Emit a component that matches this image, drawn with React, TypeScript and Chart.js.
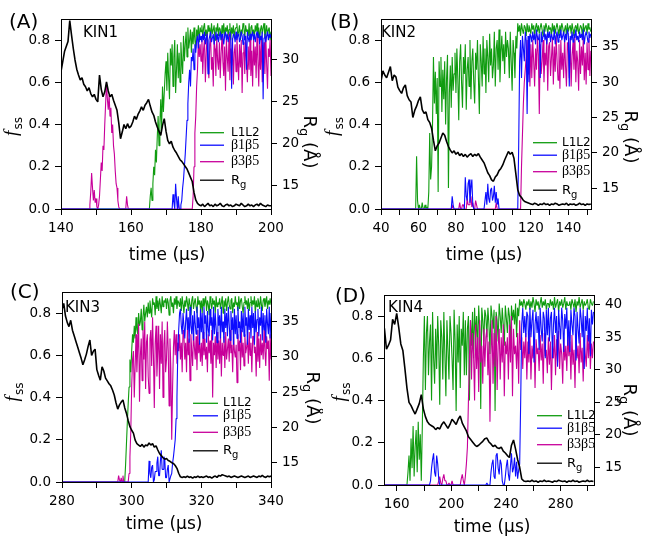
import React, { useEffect, useRef } from 'react';
import { Chart, registerables } from 'chart.js';

Chart.register(...registerables);

const SANS = '"DejaVu Sans", Verdana, sans-serif';
const SERIF = '"Liberation Serif", "DejaVu Serif", serif';
const GREEN = '#109c10';
const BLUE = '#0c0cff';
const MAGENTA = '#c8009a';
const BLACK = '#000000';

// ================= KIN1 =================
// Rg sampled every 0.5 us from 140 us; f_ss (percent) sampled every 0.25 us from 140 us
const kin1RgStart = 140;
const kin1RgStep = 0.5;
const kin1FStart = 140;
const kin1FStep = 0.25;
const kin1Rg = [
  28.6, 29.8, 31.0, 31.6, 32.2, 34.7, 33.0, 31.4, 30.0, 28.9,
  28.2, 27.6, 27.9, 27.1, 26.8, 26.3, 26.7, 26.0, 25.6, 25.9,
  25.3, 25.0, 28.2, 26.5, 25.6, 26.2, 27.4, 26.3, 25.6, 25.9,
  25.2, 24.6, 24.0, 22.5, 20.6, 21.4, 22.3, 21.8, 22.4, 21.9,
  22.1, 22.6, 23.3, 22.9, 23.5, 23.9, 24.4, 24.0, 24.6, 24.9,
  25.3, 24.5, 23.8, 23.4, 22.6, 22.0, 21.5, 21.0, 22.2, 23.0,
  21.5, 20.4, 20.0, 20.3, 19.6, 19.2, 18.9, 18.5, 18.1, 17.9,
  17.6, 17.3, 17.0, 16.5, 16.0, 15.5, 14.2, 13.3, 12.9, 12.7,
  12.6, 12.8, 12.5, 12.7, 12.9, 12.6, 12.7, 12.5, 12.8, 12.6,
  12.7, 12.9, 12.6, 12.5, 12.7, 12.8, 12.6, 12.7, 12.5, 12.6,
  12.8, 12.7, 12.6, 12.9, 12.7, 12.5, 12.6, 12.8, 12.6, 12.7,
  12.5, 12.7, 12.8, 12.6, 12.9, 12.7, 12.6, 12.5, 12.7, 12.6,
  12.6,
];
const kin1L1L2 = [
  0, 0, 0, 0, 0, 0, 0, 0, 0, 0,
  0, 0, 0, 0, 0, 0, 0, 0, 0, 0,
  0, 0, 0, 0, 0, 0, 0, 0, 0, 0,
  0, 0, 0, 0, 0, 0, 0, 0, 0, 0,
  0, 0, 0, 0, 0, 0, 0, 0, 0, 0,
  0, 0, 0, 0, 0, 0, 0, 0, 0, 0,
  0, 0, 0, 0, 0, 0, 0, 0, 0, 0,
  0, 0, 0, 0, 0, 0, 0, 0, 0, 0,
  0, 0, 0, 0, 0, 0, 0, 0, 0, 0,
  0, 0, 0, 0, 0, 0, 0, 0, 0, 0,
  0, 0, 6, 10, 4, 12, 20, 16, 28, 22,
  34, 44, 30, 40, 52, 38, 58, 46, 55, 64,
  70, 56, 74, 62, 52, 76, 68, 78, 58, 72,
  80, 55, 66, 78, 62, 74, 60, 79, 70, 64,
  82, 70, 78, 84, 72, 86, 76, 80, 85, 74,
  84, 78, 86, 80, 76, 85, 82, 87, 79, 86,
  84, 87, 81, 86, 88, 82, 85, 80, 87, 84,
  86, 81, 88, 83, 85, 87, 80, 86, 84, 88,
  82, 86, 85, 80, 87, 83, 88, 81, 86, 84,
  87, 82, 85, 88, 80, 86, 83, 87, 81, 85,
  86, 88, 82, 84, 87, 80, 85, 83, 88, 86,
  81, 87, 84, 85, 82, 88, 80, 86, 87, 83,
  85, 81, 87, 84, 88, 82, 86, 80, 85, 87,
  83, 86, 88, 81, 84, 87, 82, 85, 86, 80,
  84,
];
const kin1B1B5 = [
  0, 0, 0, 0, 0, 0, 0, 0, 0, 0,
  0, 0, 0, 0, 0, 0, 0, 0, 0, 0,
  0, 0, 0, 0, 0, 0, 0, 0, 0, 0,
  0, 0, 0, 0, 0, 0, 0, 0, 0, 0,
  0, 0, 0, 0, 0, 0, 0, 0, 0, 0,
  0, 0, 0, 0, 0, 0, 0, 0, 0, 0,
  0, 0, 0, 0, 0, 0, 0, 0, 0, 0,
  0, 0, 0, 0, 0, 0, 0, 0, 0, 0,
  0, 0, 0, 0, 0, 0, 0, 0, 0, 0,
  0, 0, 0, 0, 0, 0, 0, 0, 0, 0,
  0, 0, 0, 0, 0, 0, 0, 0, 0, 0,
  0, 0, 0, 0, 0, 0, 0, 0, 0, 0,
  0, 0, 0, 0, 0, 0, 0, 0, 7, 3,
  0, 12, 5, 0, 6, 0, 0, 2, 4, 10,
  14, 20, 26, 34, 42, 50, 60, 66, 58, 72,
  70, 76, 66, 78, 74, 80, 82, 76, 83, 80,
  82, 79, 83, 80, 84, 78, 81, 83, 64, 80,
  82, 84, 79, 81, 83, 78, 82, 84, 80, 83,
  79, 82, 84, 80, 83, 81, 78, 82, 84, 80,
  83, 79, 82, 84, 81, 57, 80, 83, 82, 79,
  84, 80, 82, 83, 79, 81, 84, 82, 78, 83,
  80, 82, 66, 84, 81, 79, 83, 80, 82, 84,
  80, 83, 79, 82, 84, 81, 83, 78, 82, 80,
  84, 52, 81, 83, 79, 82, 84, 80, 83, 81,
  83,
];
const kin1B3B5 = [
  0, 0, 0, 0, 0, 0, 0, 0, 0, 0,
  0, 0, 0, 0, 0, 0, 0, 0, 0, 0,
  0, 0, 0, 0, 0, 0, 0, 0, 0, 0,
  0, 0, 0, 2, 8, 17, 10, 4, 9, 3,
  5, 1, 0, 2, 6, 14, 22, 18, 30, 28,
  40, 50, 60, 52, 47, 54, 44, 48, 36, 40,
  30, 26, 18, 12, 10, 4, 1, 0, 0, 0,
  0, 0, 0, 0, 0, 6, 2, 0, 0, 0,
  0, 0, 0, 0, 0, 0, 0, 0, 0, 0,
  0, 0, 0, 0, 0, 0, 0, 0, 0, 0,
  0, 0, 0, 0, 0, 0, 0, 0, 0, 0,
  0, 0, 0, 0, 0, 0, 0, 0, 0, 0,
  0, 0, 0, 0, 0, 0, 0, 0, 0, 0,
  0, 0, 0, 0, 3, 0, 0, 0, 0, 0,
  0, 0, 0, 0, 0, 0, 0, 0, 0, 0,
  0, 6, 20, 36, 44, 58, 66, 80, 72, 78,
  70, 82, 64, 76, 80, 60, 74, 83, 68, 62,
  78, 81, 66, 72, 58, 80, 76, 63, 82, 70,
  66, 79, 62, 74, 82, 70, 63, 77, 56, 80,
  72, 65, 83, 61, 76, 68, 81, 59, 74, 78,
  65, 83, 71, 61, 78, 67, 80, 55, 74, 79,
  64, 82, 70, 60, 77, 66, 81, 63, 75, 58,
  80, 68, 77, 62, 83, 71, 58, 78, 66, 81,
  60, 74, 79, 64, 82, 69, 57, 76, 72, 80,
  63,
];

// ================= KIN2 =================
// Rg every 1 us from 40 us; f_ss (percent) every 0.5 us from 40 us
const kin2RgStart = 40;
const kin2RgStep = 1;
const kin2FStart = 40;
const kin2FStep = 0.5;
const kin2Rg = [
  30.1, 31.6, 31.0, 30.6, 31.4, 32.2, 30.2, 31.0, 30.7, 29.3,
  28.8, 28.4, 29.2, 29.6, 28.1, 27.5, 27.2, 25.0, 26.0, 26.6,
  27.4, 27.9, 26.1, 25.6, 25.8, 24.7, 24.3, 23.5, 21.8, 20.3,
  21.0, 21.4, 22.1, 22.8, 22.5, 21.6, 20.9, 20.4, 20.0, 20.3,
  19.8, 20.1, 19.6, 19.9, 19.5, 19.8, 19.4, 19.7, 19.9, 19.5,
  19.8, 19.6, 19.9, 19.4, 19.0, 18.6, 17.9, 17.2, 16.8, 16.2,
  16.0, 16.6, 16.9, 17.5, 17.8, 18.3, 19.0, 19.6, 20.2, 19.8,
  20.1, 19.2, 17.0, 14.8, 14.0, 13.7, 13.3, 13.1, 13.0, 12.9,
  12.8, 12.7, 12.9, 12.8, 12.6, 12.8, 12.7, 12.9, 12.7, 12.8,
  12.6, 12.8, 12.7, 12.9, 12.8, 12.6, 12.7, 12.8, 12.7, 12.9,
  12.6, 12.8, 12.7, 12.8, 12.6, 12.7, 12.9, 12.7, 12.8, 12.6,
  12.8, 12.7, 12.8,
];
const kin2L1L2 = [
  0, 0, 0, 0, 0, 0, 0, 0, 0, 0,
  0, 0, 0, 0, 0, 0, 0, 0, 0, 0,
  0, 0, 0, 0, 0, 0, 0, 0, 0, 0,
  0, 0, 0, 0, 0, 0, 0, 0, 25, 4,
  0, 2, 0, 0, 3, 0, 0, 2, 0, 1,
  0, 8, 36, 14, 20, 40, 72, 50, 65, 45,
  62, 8, 70, 58, 72, 46, 66, 52, 70, 40,
  62, 73, 10, 55, 68, 48, 72, 56, 64, 74,
  55, 76, 62, 42, 70, 78, 60, 48, 72, 64,
  78, 47, 66, 72, 58, 80, 52, 70, 76, 60,
  50, 74, 66, 80, 62, 45, 78, 70, 58, 82,
  64, 76, 55, 80, 72, 60, 83, 68, 76, 62,
  68, 84, 58, 76, 80, 66, 85, 60, 74, 82,
  70, 78, 64, 84, 72, 80, 76, 62, 84, 70,
  56, 80, 74, 62, 82, 76, 88, 84, 87, 82,
  88, 85, 83, 87, 86, 82, 88, 84, 87, 85,
  83, 88, 85, 87, 82, 86, 88, 84, 87, 83,
  86, 88, 85, 82, 87, 84, 88, 86, 83, 87,
  85, 86, 82, 88, 84, 87, 83, 86, 88, 85,
  82, 87, 84, 88, 86, 83, 85, 87, 82, 88,
  84, 86, 87, 83, 88, 85, 82, 86, 87, 84,
  88, 83, 85, 87, 86, 82, 88, 84, 86, 87,
  83, 88, 85, 86, 84,
];
const kin2B1B5 = [
  0, 0, 0, 0, 0, 0, 0, 0, 0, 0,
  0, 0, 0, 0, 0, 0, 0, 0, 0, 0,
  0, 0, 0, 0, 0, 0, 0, 0, 0, 0,
  0, 0, 0, 0, 0, 0, 0, 0, 0, 0,
  0, 0, 0, 0, 0, 0, 0, 0, 0, 0,
  0, 0, 0, 0, 0, 0, 0, 0, 0, 0,
  0, 0, 0, 0, 0, 0, 0, 0, 0, 0,
  0, 0, 0, 0, 0, 0, 6, 2, 0, 0,
  0, 0, 0, 0, 0, 0, 0, 0, 0, 0,
  15, 6, 4, 12, 14, 3, 10, 14, 2, 0,
  0, 0, 0, 0, 0, 0, 0, 0, 0, 0,
  0, 0, 8, 2, 12, 5, 3, 9, 10, 4,
  6, 11, 3, 8, 2, 5, 0, 0, 0, 0,
  0, 0, 0, 0, 0, 0, 0, 0, 0, 0,
  0, 0, 0, 0, 0, 0, 0, 30, 70, 80,
  62, 82, 76, 70, 84, 80, 45, 82, 60, 83,
  82, 79, 84, 80, 83, 78, 85, 81, 80, 83,
  62, 84, 79, 82, 85, 80, 83, 78, 84, 81,
  84, 79, 83, 81, 80, 85, 78, 82, 84, 79,
  83, 81, 85, 80, 82, 84, 79, 83, 80, 85,
  83, 58, 82, 80, 84, 79, 83, 81, 85, 80,
  82, 79, 84, 81, 83, 80, 85, 78, 82, 84,
  82, 79, 84, 81, 83,
];
const kin2B3B5 = [
  0, 0, 0, 0, 0, 0, 0, 0, 0, 0,
  0, 0, 0, 0, 0, 0, 0, 0, 0, 0,
  0, 0, 0, 0, 0, 0, 0, 0, 0, 0,
  0, 0, 0, 0, 0, 0, 0, 0, 0, 0,
  0, 0, 0, 0, 0, 0, 0, 0, 0, 0,
  0, 0, 0, 0, 0, 0, 0, 0, 0, 0,
  0, 0, 0, 0, 0, 0, 0, 0, 0, 0,
  0, 0, 0, 0, 0, 0, 2, 0, 0, 0,
  0, 0, 0, 0, 3, 0, 0, 2, 2, 0,
  0, 0, 5, 2, 2, 4, 6, 1, 3, 0,
  0, 4, 2, 0, 0, 0, 0, 0, 0, 0,
  0, 0, 0, 0, 0, 0, 0, 0, 0, 0,
  0, 0, 0, 3, 0, 0, 0, 0, 0, 0,
  0, 0, 0, 0, 0, 0, 0, 0, 0, 0,
  0, 0, 0, 0, 0, 0, 0, 0, 0, 0,
  20, 35, 50, 60, 66, 72, 80, 64, 78, 58,
  78, 62, 80, 70, 58, 76, 66, 82, 73, 45,
  78, 64, 70, 80, 60, 74, 68, 82, 56, 77,
  79, 63, 72, 81, 59, 77, 65, 82, 70, 61,
  78, 57, 80, 66, 74, 62, 81, 68, 58, 79,
  76, 62, 81, 58, 73, 79, 66, 82, 60, 75,
  70, 56, 80, 64, 77, 68, 82, 61, 74, 59,
  79, 66, 81, 63, 75,
];

// ================= KIN3 =================
// Rg every 0.5 us from 280 us; f_ss (percent) every 0.25 us from 280 us
const kin3RgStart = 280;
const kin3RgStep = 0.5;
const kin3FStart = 280;
const kin3FStep = 0.25;
const kin3Rg = [
  36.7, 37.6, 35.8, 34.9, 34.3, 35.2, 33.8, 33.0, 32.2, 31.4,
  30.6, 29.8, 28.9, 29.6, 30.4, 31.5, 32.4, 30.2, 30.8, 31.1,
  28.2, 27.4, 26.7, 28.6, 28.0, 27.0, 26.6, 26.2, 25.9, 25.3,
  24.6, 23.5, 22.6, 23.2, 23.6, 23.9, 22.8, 22.0, 21.0, 20.1,
  19.6, 19.2, 18.2, 17.7, 17.5, 17.3, 17.6, 17.2, 17.5, 17.4,
  17.8, 17.5, 17.7, 17.2, 17.4, 16.8, 16.3, 16.0, 15.7, 15.5,
  15.6, 15.3, 15.2, 15.0, 14.9, 14.6, 14.2, 13.5, 13.0, 12.9,
  13.0, 12.9, 13.1, 12.9, 13.0, 12.8, 13.0, 12.9, 13.1, 12.9,
  13.0, 12.9, 13.0, 13.1, 12.9, 13.0, 12.8, 13.0, 13.1, 12.9,
  13.2, 13.1, 13.3, 13.2, 13.1, 13.0, 13.1, 12.9, 13.0, 13.1,
  13.0, 12.9, 13.0, 13.1, 13.0, 12.9, 13.0, 13.1, 12.9, 13.0,
  13.1, 13.0, 12.9, 13.1, 13.0, 13.2, 13.0, 12.9, 13.1, 13.0,
  13.1,
];
const kin3L1L2 = [
  0, 0, 0, 0, 0, 0, 0, 0, 0, 0,
  0, 0, 0, 0, 0, 0, 0, 0, 0, 0,
  0, 0, 0, 0, 0, 0, 0, 0, 0, 0,
  0, 0, 0, 0, 0, 0, 0, 0, 0, 0,
  0, 0, 0, 0, 0, 0, 0, 0, 0, 0,
  0, 0, 0, 0, 0, 0, 0, 0, 0, 0,
  0, 0, 0, 0, 0, 0, 0, 0, 0, 0,
  0, 0, 0, 8, 18, 28, 37, 45, 58, 52,
  62, 70, 66, 74, 68, 78, 72, 70, 80, 74,
  76, 82, 72, 78, 84, 76, 80, 83, 78, 85,
  80, 86, 82, 78, 87, 84, 85, 79, 88, 82,
  86, 81, 87, 84, 80, 88, 83, 86, 85, 87,
  82, 87, 85, 79, 86, 88, 83, 85, 80, 87,
  84, 88, 82, 86, 85, 83, 87, 81, 88, 84,
  80, 86, 83, 88, 85, 81, 87, 84, 79, 86,
  88, 82, 85, 87, 83, 80, 88, 84, 86, 82,
  86, 80, 87, 83, 85, 88, 81, 86, 84, 79,
  88, 85, 82, 87, 84, 86, 80, 88, 83, 85,
  84, 87, 82, 85, 88, 80, 86, 83, 87, 81,
  85, 88, 84, 82, 86, 87, 80, 85, 83, 88,
  84, 85, 81, 88, 82, 86, 87, 83, 80, 85,
  88, 84, 86, 82, 87, 81, 85, 88, 83, 86,
  84, 88, 80, 86, 83, 87, 85, 82, 88, 84,
  81, 86, 87, 83, 85, 88, 82, 86, 84, 87,
  84,
];
const kin3B1B5 = [
  0, 0, 0, 0, 0, 0, 0, 0, 0, 0,
  0, 0, 0, 0, 0, 0, 0, 0, 0, 0,
  0, 0, 0, 0, 0, 0, 0, 0, 0, 0,
  0, 0, 0, 0, 0, 0, 0, 0, 0, 0,
  0, 0, 0, 0, 0, 0, 0, 0, 0, 0,
  0, 0, 0, 0, 0, 0, 0, 0, 0, 0,
  0, 0, 0, 0, 0, 0, 0, 0, 0, 0,
  0, 0, 0, 0, 0, 0, 0, 0, 0, 0,
  0, 0, 0, 0, 0, 0, 0, 0, 0, 0,
  0, 0, 0, 0, 0, 0, 0, 0, 0, 0,
  10, 4, 2, 7, 8, 0, 1, 5, 5, 9,
  12, 3, 3, 10, 15, 6, 6, 12, 11, 2,
  2, 6, 8, 0, 0, 3, 4, 9, 12, 16,
  20, 30, 40, 62, 72, 80, 82, 74, 70, 80,
  80, 68, 76, 82, 72, 78, 66, 83, 74, 70,
  79, 67, 81, 75, 70, 83, 73, 78, 65, 82,
  71, 80, 68, 83, 75, 79, 66, 81, 72, 69,
  82, 74, 78, 67, 83, 70, 80, 73, 66, 82,
  74, 79, 68, 83, 71, 76, 66, 82, 73, 80,
  69, 83, 75, 67, 81, 72, 78, 65, 82, 70,
  79, 68, 83, 73, 76, 66, 81, 71, 80, 69,
  83, 74, 78, 65, 82, 72, 79, 68, 83, 73,
  80, 65, 81, 71, 77, 82, 69, 78, 74, 83,
  67, 80, 72, 79, 66, 82, 75, 70, 83, 68,
  80,
];
const kin3B3B5 = [
  0, 0, 0, 0, 0, 0, 0, 0, 0, 0,
  0, 0, 0, 0, 0, 0, 0, 0, 0, 0,
  0, 0, 0, 0, 0, 0, 0, 0, 0, 0,
  0, 0, 0, 0, 0, 0, 0, 0, 0, 0,
  0, 0, 0, 0, 0, 0, 0, 0, 0, 0,
  0, 0, 0, 0, 0, 0, 0, 0, 0, 0,
  0, 0, 0, 0, 0, 3, 1, 0, 2, 0,
  3, 0, 0, 0, 0, 0, 0, 4, 12, 24,
  45, 58, 62, 40, 55, 70, 52, 64, 75, 38,
  60, 68, 48, 72, 58, 76, 44, 66, 70, 50,
  42, 68, 72, 55, 78, 60, 35, 66, 74, 50,
  62, 74, 44, 70, 56, 76, 40, 65, 72, 52,
  58, 76, 62, 36, 68, 54, 20, 45, 64, 72,
  60, 70, 56, 66, 62, 70, 58, 66, 52, 72,
  70, 58, 66, 52, 72, 60, 68, 48, 70, 62,
  55, 71, 64, 58, 69, 53, 72, 61, 66, 57,
  66, 55, 71, 60, 68, 58, 64, 52, 70, 61,
  67, 56, 72, 40, 66, 60, 69, 54, 71, 58,
  67, 56, 72, 50, 66, 60, 69, 54, 71, 58,
  63, 68, 57, 72, 61, 65, 52, 70, 62, 59,
  65, 47, 70, 62, 67, 53, 72, 59, 66, 55,
  70, 61, 64, 68, 56, 71, 60, 66, 52, 69,
  69, 61, 64, 50, 71, 57, 68, 54, 70, 60,
  66, 58, 72, 62, 55, 69, 63, 67, 48, 70,
  58,
];

// ================= KIN4 =================
// Rg every 1.5 us from 151 us; f_ss (percent) every 0.75 us from 151 us
const kin4RgStart = 151;
const kin4RgStep = 1.5;
const kin4FStart = 151;
const kin4FStep = 0.75;
const kin4Rg = [
  36.4, 33.2, 33.8, 34.6, 37.8, 37.0, 38.7, 36.5, 34.0, 33.0,
  30.2, 27.2, 25.0, 24.5, 23.8, 23.2, 24.0, 24.8, 26.2, 24.0,
  22.8, 22.0, 21.6, 21.4, 21.2, 20.8, 21.1, 20.9, 21.6, 22.0,
  21.5, 21.0, 21.6, 22.4, 22.0, 21.6, 22.4, 22.9, 21.8, 21.2,
  20.6, 19.7, 19.3, 18.9, 18.5, 18.2, 18.4, 18.7, 19.0, 19.4,
  19.5, 18.9, 18.6, 18.2, 18.4, 18.0, 17.9, 18.1, 17.5, 17.2,
  16.8, 16.5, 18.4, 19.2, 17.8, 16.2, 15.0, 13.2, 12.9, 12.8,
  12.9, 12.8, 13.0, 12.8, 12.9, 12.7, 12.9, 12.8, 13.0, 12.8,
  12.9, 12.8, 12.7, 12.9, 12.8, 13.0, 12.9, 12.8, 12.9, 12.7,
  12.9, 12.8, 13.0, 12.8, 12.9, 12.7, 12.8, 12.9, 12.8, 13.0,
  12.8, 12.9, 12.8,
];
const kin4L1L2 = [
  0, 0, 0, 0, 0, 0, 0, 0, 0, 0,
  0, 0, 0, 0, 0, 0, 0, 0, 0, 0,
  0, 0, 0, 6, 14, 2, 22, 8, 28, 4,
  18, 26, 6, 30, 12, 24, 2, 28, 60, 80,
  45, 72, 80, 52, 68, 76, 40, 82, 60, 48,
  74, 55, 80, 66, 38, 78, 70, 50, 82, 62,
  42, 78, 64, 50, 80, 72, 60, 45, 83, 68,
  35, 76, 58, 80, 46, 74, 66, 82, 52, 78,
  52, 74, 80, 40, 78, 66, 82, 60, 84, 70,
  80, 62, 85, 74, 36, 84, 78, 68, 83, 80,
  70, 84, 76, 62, 85, 80, 74, 83, 35, 82,
  78, 68, 86, 80, 72, 84, 76, 66, 85, 79,
  72, 84, 80, 66, 85, 78, 83, 76, 86, 70,
  84, 80, 88, 85, 87, 84, 88, 86, 83, 87,
  85, 88, 83, 87, 84, 89, 86, 82, 88, 85,
  87, 83, 86, 89, 84, 87, 85, 88, 83, 86,
  86, 84, 88, 85, 87, 83, 89, 84, 86, 88,
  82, 87, 85, 88, 84, 86, 89, 83, 87, 85,
  85, 87, 83, 88, 86, 84, 88, 82, 87, 85,
  89, 84, 86, 88, 83, 87, 85, 86, 88, 84,
  83, 88, 86, 85, 87,
];
const kin4B1B5 = [
  0, 0, 0, 0, 0, 0, 0, 0, 0, 0,
  0, 0, 0, 0, 0, 0, 0, 0, 0, 0,
  0, 0, 0, 0, 0, 0, 0, 0, 0, 0,
  0, 0, 0, 0, 0, 0, 0, 0, 0, 0,
  0, 0, 0, 0, 0, 2, 8, 12, 15, 6,
  4, 14, 10, 3, 0, 0, 0, 0, 0, 0,
  0, 0, 0, 0, 0, 0, 0, 0, 0, 0,
  0, 0, 0, 0, 0, 0, 0, 0, 0, 0,
  0, 0, 0, 0, 0, 0, 0, 0, 0, 0,
  0, 0, 0, 0, 0, 0, 0, 0, 0, 0,
  1, 0, 0, 0, 6, 10, 12, 4, 3, 14,
  15, 8, 5, 12, 10, 2, 0, 0, 4, 9,
  12, 5, 2, 9, 15, 6, 8, 13, 4, 11,
  3, 7, 10, 40, 76, 84, 72, 80, 70, 82,
  80, 62, 84, 70, 78, 83, 58, 76, 82, 72,
  80, 64, 84, 74, 68, 82, 79, 60, 83, 71,
  84, 68, 79, 82, 60, 76, 84, 72, 80, 56,
  83, 75, 69, 84, 78, 63, 81, 74, 84, 66,
  78, 63, 83, 76, 71, 84, 80, 59, 82, 74,
  67, 84, 79, 70, 83, 55, 80, 73, 84, 68,
  79, 61, 83, 76, 82,
];
const kin4B3B5 = [
  0, 0, 0, 0, 0, 0, 0, 0, 0, 0,
  0, 0, 0, 0, 0, 0, 0, 0, 0, 0,
  0, 0, 0, 0, 0, 0, 0, 0, 0, 0,
  0, 0, 0, 0, 0, 0, 0, 0, 0, 0,
  0, 0, 0, 0, 0, 0, 0, 0, 0, 0,
  0, 0, 0, 2, 4, 1, 0, 3, 5, 2,
  2, 0, 0, 1, 0, 0, 2, 0, 0, 0,
  0, 0, 0, 0, 0, 3, 5, 2, 0, 4,
  10, 18, 40, 60, 78, 50, 72, 62, 40, 76,
  55, 70, 44, 78, 58, 66, 48, 74, 56, 70,
  74, 52, 68, 30, 62, 78, 48, 72, 56, 80,
  45, 66, 74, 50, 70, 58, 76, 42, 68, 62,
  70, 50, 76, 58, 80, 42, 74, 62, 66, 55,
  72, 48, 78, 64, 70, 55, 68, 60, 72, 50,
  68, 58, 72, 50, 66, 60, 70, 46, 69, 62,
  65, 54, 71, 59, 67, 48, 72, 61, 64, 53,
  70, 57, 68, 45, 66, 60, 71, 52, 69, 58,
  73, 55, 67, 62, 48, 70, 59, 66, 54, 72,
  61, 68, 50, 71, 57, 64, 46, 70, 60, 66,
  53, 72, 58, 65, 49, 69, 62, 56, 71, 60,
  73, 55, 67, 60, 68,
];

// ---------------- axis ticks ----------------
const fssTicks = [0, 0.2, 0.4, 0.6, 0.8];
const kin1XMajor = [140, 160, 180, 200];
const kin1XMinor = [150, 170, 190];
const kin2XMajor = [40, 60, 80, 100, 120, 140];
const kin2XMinor = [50, 70, 90, 110, 130, 150];
const kin3XMajor = [280, 300, 320, 340];
const kin3XMinor = [290, 310, 330];
const kin4XMajor = [160, 200, 240, 280];
const kin4XMinor = [180, 220, 260, 300];
const kin1RgTicks = [15, 20, 25, 30];
const kin2RgTicks = [15, 20, 25, 30, 35];
const kin3RgTicks = [15, 20, 25, 30, 35];
const kin4RgTicks = [15, 20, 25, 30, 35, 40];

type Pt = [number, number];
interface PanelCfg {
  letter: string; kin: string;
  left: number; top: number; w: number; h: number;
  area: { l: number; r: number; t: number; b: number };
  rgStart: number; rgStep: number; fStart: number; fStep: number;
  xMin: number; xMax: number; xMajor: number[]; xMinor: number[];
  rgMin: number; rgMax: number; rgTicks: number[];
  l1l2: number[]; b1b5: number[]; b3b5: number[]; rg: number[];
  letterPos: Pt; kinPos: Pt; xTitle: Pt; fss: Pt; rgTitle: Pt;
  legend: { x1: number; x2: number; tx: number; y: number };
}

const panels: PanelCfg[] = [
  {
    letter: 'A', kin: 'KIN1', left: 0, top: 0, w: 323, h: 270,
    area: { l: 61, r: 271, t: 19, b: 209 },
    rgStart: kin1RgStart, rgStep: kin1RgStep, fStart: kin1FStart, fStep: kin1FStep,
    xMin: 140, xMax: 200, xMajor: kin1XMajor, xMinor: kin1XMinor,
    rgMin: 12.22, rgMax: 34.89, rgTicks: kin1RgTicks,
    l1l2: kin1L1L2, b1b5: kin1B1B5, b3b5: kin1B3B5, rg: kin1Rg,
    letterPos: [9, 22.5], kinPos: [83, 36.7], xTitle: [167, 255.5], fss: [17, 126.5], rgTitle: [309, 142],
    legend: { x1: 200, x2: 224, tx: 231, y: 132.7 },
  },
  {
    letter: 'B', kin: 'KIN2', left: 323, top: 0, w: 324, h: 270,
    area: { l: 58, r: 268, t: 19, b: 209 },
    rgStart: kin2RgStart, rgStep: kin2RgStep, fStart: kin2FStart, fStep: kin2FStep,
    xMin: 40, xMax: 152.1, xMajor: kin2XMajor, xMinor: kin2XMinor,
    rgMin: 12.08, rgMax: 38.91, rgTicks: kin2RgTicks,
    l1l2: kin2L1L2, b1b5: kin2B1B5, b3b5: kin2B3B5, rg: kin2Rg,
    letterPos: [330, 22.5], kinPos: [381, 36.7], xTitle: [484, 255.5], fss: [338, 126.5], rgTitle: [630, 137],
    legend: { x1: 533, x2: 557, tx: 562, y: 142.7 },
  },
  {
    letter: 'C', kin: 'KIN3', left: 0, top: 270, w: 323, h: 270,
    area: { l: 62, r: 271, t: 22, b: 212 },
    rgStart: kin3RgStart, rgStep: kin3RgStep, fStart: kin3FStart, fStep: kin3FStep,
    xMin: 280, xMax: 340, xMajor: kin3XMajor, xMinor: kin3XMinor,
    rgMin: 12.26, rgMax: 39.21, rgTicks: kin3RgTicks,
    l1l2: kin3L1L2, b1b5: kin3B1B5, b3b5: kin3B3B5, rg: kin3Rg,
    letterPos: [10, 292.5], kinPos: [65, 311.7], xTitle: [164, 525], fss: [18, 392], rgTitle: [312, 398],
    legend: { x1: 193, x2: 218, tx: 223, y: 403.3 },
  },
  {
    letter: 'D', kin: 'KIN4', left: 323, top: 270, w: 324, h: 270,
    area: { l: 61, r: 271, t: 25, b: 215 },
    rgStart: kin4RgStart, rgStep: kin4RgStep, fStart: kin4FStart, fStep: kin4FStep,
    xMin: 150.7, xMax: 304.4, xMajor: kin4XMajor, xMinor: kin4XMinor,
    rgMin: 12.27, rgMax: 41.54, rgTicks: kin4RgTicks,
    l1l2: kin4L1L2, b1b5: kin4B1B5, b3b5: kin4B3B5, rg: kin4Rg,
    letterPos: [335, 296.5], kinPos: [388, 311.7], xTitle: [492, 527.5], fss: [345, 392], rgTitle: [629, 410],
    legend: { x1: 537, x2: 562, tx: 567, y: 415.7 },
  },
];

const legendRows = [0, 12.5, 29, 47.5];

function makePlugin(p: PanelCfg) {
  return {
    id: 'panelDecor' + p.letter,
    afterDatasetsDraw(chart: any) {
      const ctx = chart.ctx as CanvasRenderingContext2D;
      const a = chart.chartArea;
      ctx.save();
      ctx.strokeStyle = '#000';
      ctx.lineWidth = 1;
      ctx.strokeRect(Math.round(a.left) + 0.5, Math.round(a.top) + 0.5,
        Math.round(a.right) - Math.round(a.left), Math.round(a.bottom) - Math.round(a.top));
      ctx.restore();
    },
    afterDraw(chart: any) {
      const ctx = chart.ctx as CanvasRenderingContext2D;
      const ox = p.left, oy = p.top;
      ctx.save();
      ctx.fillStyle = '#000';
      ctx.textAlign = 'left';
      ctx.textBaseline = 'middle';
      ctx.font = `20px ${SANS}`;
      ctx.fillText(`(${p.letter})`, p.letterPos[0] - ox, p.letterPos[1] - oy);
      ctx.textBaseline = 'alphabetic';
      ctx.font = `15px ${SANS}`;
      ctx.fillText(p.kin, p.kinPos[0] - ox, p.kinPos[1] - oy);
      ctx.textAlign = 'center';
      ctx.textBaseline = 'middle';
      ctx.font = `17px ${SANS}`;
      ctx.fillText('time (\u03bcs)', p.xTitle[0] - ox, p.xTitle[1] - oy);
      // f_ss (rotated counter-clockwise)
      ctx.save();
      ctx.translate(p.fss[0] - ox, p.fss[1] - oy);
      ctx.rotate(-Math.PI / 2);
      ctx.textAlign = 'left';
      ctx.textBaseline = 'alphabetic';
      const fFont = `italic 19px ${SERIF}`;
      const sFont = `12px ${SANS}`;
      ctx.font = fFont;
      const fw = ctx.measureText('f').width;
      ctx.font = sFont;
      const sw = ctx.measureText('ss').width;
      const tot = fw + sw + 1;
      ctx.font = fFont;
      ctx.fillText('f', -tot / 2, 0);
      ctx.font = sFont;
      ctx.fillText('ss', -tot / 2 + fw + 1, 5);
      ctx.restore();
      // R_g (Å) rotated clockwise
      ctx.save();
      ctx.translate(p.rgTitle[0] - ox, p.rgTitle[1] - oy);
      ctx.rotate(Math.PI / 2);
      ctx.textAlign = 'left';
      ctx.textBaseline = 'middle';
      const bigF = `18px ${SANS}`;
      const subF = `13px ${SANS}`;
      ctx.font = bigF;
      const rw = ctx.measureText('R').width;
      const restW = ctx.measureText(' (\u00c5)').width;
      ctx.font = subF;
      const gw = ctx.measureText('g').width;
      const tw = rw + gw + restW;
      let cx = -tw / 2;
      ctx.font = bigF;
      ctx.fillText('R', cx, 0);
      cx += rw;
      ctx.font = subF;
      ctx.fillText('g', cx, 6);
      cx += gw;
      ctx.font = bigF;
      ctx.fillText(' (\u00c5)', cx, 0);
      ctx.restore();
      // legend
      const items = [
        { c: GREEN, t: 'L1L2', f: `12px ${SANS}` },
        { c: BLUE, t: '\u03b21\u03b25', f: `14px ${SERIF}` },
        { c: MAGENTA, t: '\u03b23\u03b25', f: `14px ${SERIF}` },
        { c: BLACK, t: 'R', f: `13px ${SANS}` },
      ];
      items.forEach((it, i) => {
        const y = p.legend.y + legendRows[i] - oy;
        ctx.strokeStyle = it.c;
        ctx.lineWidth = 1.3;
        ctx.beginPath();
        ctx.moveTo(p.legend.x1 - ox, y);
        ctx.lineTo(p.legend.x2 - ox, y);
        ctx.stroke();
        ctx.fillStyle = '#000';
        ctx.textAlign = 'left';
        ctx.textBaseline = 'middle';
        ctx.font = it.f;
        ctx.fillText(it.t, p.legend.tx - ox, y);
        if (i === 3) {
          const w = ctx.measureText('R').width;
          ctx.font = `10px ${SANS}`;
          ctx.fillText('g', p.legend.tx - ox + w, y + 5);
        }
      });
      ctx.restore();
    },
  };
}

function PanelChart({ p }: { p: PanelCfg }) {
  const ref = useRef<HTMLCanvasElement | null>(null);
  useEffect(() => {
    const canvas = ref.current;
    if (!canvas) return;
    const fPts = (vals: number[]) => vals.map((v, i) => ({ x: p.fStart + i * p.fStep, y: v / 100 }));
    const rPts = (vals: number[]) => vals.map((v, i) => ({ x: p.rgStart + i * p.rgStep, y: v }));
    const tickFont = { family: SANS, size: 13.5 };
    const allX = [...p.xMajor, ...p.xMinor].sort((a, b) => a - b).filter((v) => v >= p.xMin && v <= p.xMax);
    const lw = 1.1;
    const chart = new Chart(canvas, {
      type: 'line',
      data: {
        datasets: [
          { label: 'Rg', data: rPts(p.rg), yAxisID: 'y2', borderColor: BLACK, borderWidth: 1.6, order: 1 },
          { label: 'b1b5', data: fPts(p.b1b5), yAxisID: 'y', borderColor: BLUE, borderWidth: lw, order: 2 },
          { label: 'b3b5', data: fPts(p.b3b5), yAxisID: 'y', borderColor: MAGENTA, borderWidth: lw, order: 3 },
          { label: 'L1L2', data: fPts(p.l1l2), yAxisID: 'y', borderColor: GREEN, borderWidth: lw, order: 4 },
        ],
      } as any,
      options: {
        responsive: false,
        animation: false,
        devicePixelRatio: 1,
        layout: { padding: { top: p.area.t, left: 0, right: 0, bottom: 0 } },
        elements: {
          point: { radius: 0 },
          line: { tension: 0, fill: false, borderJoinStyle: 'bevel' },
        },
        plugins: { legend: { display: false }, tooltip: { enabled: false } },
        scales: {
          x: {
            type: 'linear',
            min: p.xMin,
            max: p.xMax,
            afterFit: (s: any) => { s.height = p.h - p.area.b; },
            afterBuildTicks: (s: any) => { s.ticks = allX.map((v) => ({ value: v })); },
            ticks: {
              autoSkip: false, maxRotation: 0, minRotation: 0, padding: 5, color: '#000', font: tickFont,
              callback: (v: any) => (p.xMajor.includes(Number(v)) ? String(v) : ''),
            },
            grid: { drawOnChartArea: false, drawTicks: true, tickLength: 6, color: '#000', tickColor: '#000' },
            border: { display: false },
          },
          y: {
            type: 'linear',
            position: 'left',
            min: 0,
            max: 0.9,
            afterFit: (s: any) => { s.width = p.area.l; },
            afterBuildTicks: (s: any) => { s.ticks = fssTicks.map((v) => ({ value: v })); },
            ticks: { padding: 5, color: '#000', font: tickFont, callback: (v: any) => Number(v).toFixed(1) },
            grid: { drawOnChartArea: false, drawTicks: true, tickLength: 6, color: '#000', tickColor: '#000' },
            border: { display: false },
          },
          y2: {
            type: 'linear',
            position: 'right',
            min: p.rgMin,
            max: p.rgMax,
            afterFit: (s: any) => { s.width = p.w - p.area.r; },
            afterBuildTicks: (s: any) => { s.ticks = p.rgTicks.map((v) => ({ value: v })); },
            ticks: { padding: 5, color: '#000', font: tickFont, callback: (v: any) => String(v) },
            grid: { drawOnChartArea: false, drawTicks: true, tickLength: 6, color: '#000', tickColor: '#000' },
            border: { display: false },
          },
        },
      } as any,
      plugins: [makePlugin(p)],
    });
    return () => chart.destroy();
  }, [p]);
  return (
    <canvas
      ref={ref}
      width={p.w}
      height={p.h}
      style={{ position: 'absolute', left: p.left, top: p.top, width: p.w, height: p.h }}
    />
  );
}

export default function App() {
  return (
    <div style={{ position: 'absolute', left: 0, top: 0, width: 647, height: 540, background: '#fff', overflow: 'hidden' }}>
      {panels.map((p) => (
        <PanelChart key={p.letter} p={p} />
      ))}
    </div>
  );
}
